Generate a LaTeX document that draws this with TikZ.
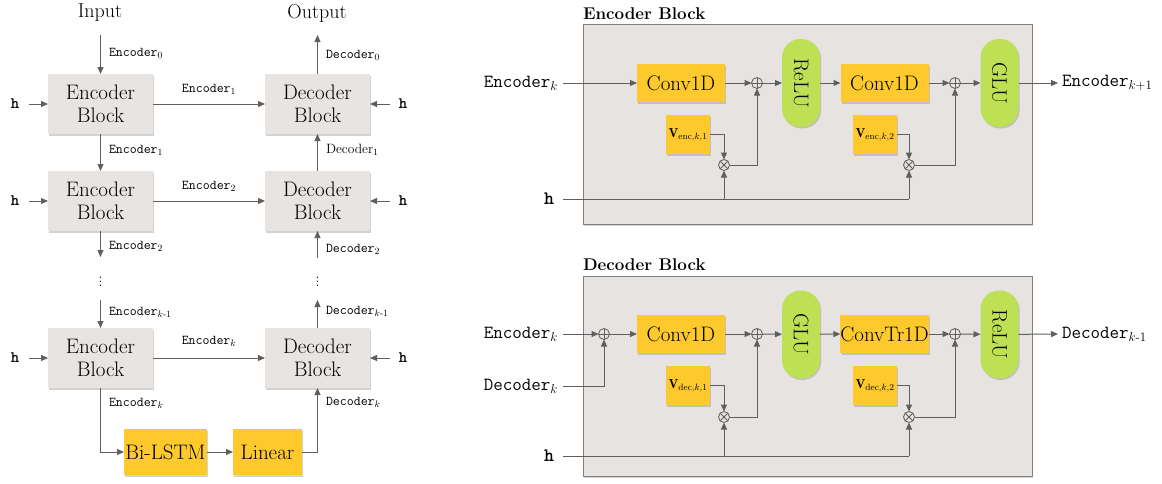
\RequirePackage{fix-cm}
\documentclass[tikz,border=0pt]{standalone}
\usepackage{fontspec}
\usepackage{amsmath}
\usetikzlibrary{arrows.meta,shadows,calc}
\definecolor{blockgray}{RGB}{231,228,226}
\definecolor{panelgray}{RGB}{230,227,225}
\definecolor{ylw}{RGB}{253,201,45}
\definecolor{grn}{RGB}{189,224,84}
\definecolor{ln}{RGB}{95,95,95}
\newcommand{\fs}[1]{\fontsize{#1}{#1}\selectfont}
\begin{document}
\begin{tikzpicture}[x=1pt,y=-1pt,
  every node/.style={inner sep=0pt,outer sep=0pt},
  shd/.style={drop shadow={opacity=0.35,shadow xshift=1.2pt,shadow yshift=-1.5pt}},
  blk/.style={fill=blockgray,minimum width=105pt,minimum height=60pt,align=center,
    font=\fontsize{21}{23}\selectfont,shd},
  ybox/.style={fill=ylw,minimum height=38pt,font=\fs{21},shd},
  vbox/.style={fill=ylw,minimum width=44pt,minimum height=39pt,font=\fs{13},shd},
  pill/.style={fill=grn,minimum width=88pt,minimum height=38pt,rounded corners=18.5pt,
    rotate=-90,font=\fs{21},shd},
  panel/.style={fill=panelgray,draw=ln!80,line width=0.9pt,shd},
  lbl/.style={font=\fs{13.5}},
  big/.style={font=\fs{18.5}},
  hl/.style={font=\fs{16}\ttfamily\bfseries},
  hr/.style={font=\fs{19}\ttfamily\bfseries},
  ttl/.style={font=\fs{17}\bfseries},
  op/.style={circle,draw=ln,line width=0.8pt,minimum size=11pt,fill=panelgray},
  ar/.style={draw=ln,line width=1pt,-{Triangle[length=7pt,width=6pt]}},
  ln/.style={draw=ln,line width=1pt},
]
\useasboundingbox (0,0) rectangle (1162,483);

% ---------------- left panel ----------------
\node[font=\fs{20}] (input) at (100,13) {Input};
\node[font=\fs{20}] (output) at (317,13) {Output};

\node[blk] (enc1) at (100.5,104) {Encoder\\Block};
\node[blk] (dec1) at (317.5,104) {Decoder\\Block};
\node[blk] (enc2) at (100.5,201) {Encoder\\Block};
\node[blk] (dec2) at (317.5,201) {Decoder\\Block};
\node[blk] (enc3) at (100.5,358) {Encoder\\Block};
\node[blk] (dec3) at (317.5,358) {Decoder\\Block};
\node[ybox,minimum width=83pt,minimum height=46pt] (lstm) at (165.5,452) {Bi-LSTM};
\node[ybox,minimum width=69pt,minimum height=46pt] (lin) at (267.5,452) {Linear};

\coordinate (in0) at (100.5,35);
\coordinate (out0) at (317.5,35);
\draw[ar] (in0) -- (enc1.north);
\draw[ar] (dec1.north) -- (out0);
\node[lbl,anchor=west] (le0) at (109,53) {\texttt{Encoder}$_0$};
\node[lbl,anchor=west] (ld0) at (326,55) {\texttt{Decoder}$_0$};

% h inputs
\foreach \r/\y in {1/104,2/201,3/358}{
  \node[hl] (hl\r) at (15,\y) {h};
  \coordinate (hls\r) at (29,\y);
  \draw[ar] (hls\r) -- (enc\r.west);
  \node[hl] (hr\r) at (403,\y) {h};
  \coordinate (hrs\r) at (390,\y);
  \draw[ar] (hrs\r) -- (dec\r.east);
}

\draw[ar] (enc1.east) -- (dec1.west);
\node[lbl] (le1h) at (209,89) {\texttt{Encoder}$_1$};
\draw[ar] (enc1.south) -- (enc2.north);
\node[lbl,anchor=west] (le1v) at (109,150) {\texttt{Encoder}$_1$};
\draw[ar] (dec2.north) -- (dec1.south);
\node[lbl,anchor=west] (ld1v) at (326,150) {Decoder$_1$};

\draw[ar] (enc2.east) -- (dec2.west);
\node[lbl] (le2h) at (209,186) {\texttt{Encoder}$_2$};
\coordinate (e2d) at (100.5,257);
\draw[ar] (enc2.south) -- (e2d);
\node[lbl,anchor=west] (le2v) at (109,246) {\texttt{Encoder}$_2$};
\coordinate (d2u) at (317.5,258);
\draw[ar] (d2u) -- (dec2.south);
\node[lbl,anchor=west] (ld2v) at (326,249) {\texttt{Decoder}$_2$};

\node[font=\fs{14}] (dotl) at (100.5,279) {$\vdots$};
\node[font=\fs{14}] (dotr) at (317.5,279) {$\vdots$};

\coordinate (ek1) at (100.5,300);
\draw[ar] (ek1) -- (enc3.north);
\node[lbl,anchor=west] (lek1) at (109,312) {\texttt{Encoder}$_{k\text{-}1}$};
\coordinate (dk1) at (317.5,300);
\draw[ar] (dec3.north) -- (dk1);
\node[lbl,anchor=west] (ldk1) at (326,311) {\texttt{Decoder}$_{k\text{-}1}$};

\draw[ar] (enc3.east) -- (dec3.west);
\node[lbl] (lekh) at (209,341) {\texttt{Encoder}$_k$};
\draw[ar] (enc3.south) |- (lstm.west);
\node[lbl,anchor=west] (lekv) at (109,403) {\texttt{Encoder}$_k$};
\draw[ar] (lstm.east) -- (lin.west);
\draw[ar] (lin.east) -| (dec3.south);
\node[lbl,anchor=west] (ldkv) at (326,402) {\texttt{Decoder}$_k$};

% ---------------- encoder block detail ----------------
\node[ttl,anchor=base west] (t1) at (583,19) {Encoder Block};
\node[panel,minimum width=449pt,minimum height=200pt] (p1) at (807.5,124) {};

\node[big,anchor=east] (ein) at (558,83) {\texttt{Encoder}$_k$};
\coordinate (eins) at (563,83);
\node[ybox,minimum width=88pt] (ec1) at (681,83) {Conv1D};
\node[op] (eplus1) at (757,83) {};
\draw[ln] (eplus1.north) -- (eplus1.south) (eplus1.west) -- (eplus1.east);
\node[pill] (erelu) at (801,83) {ReLU};
\node[ybox,minimum width=88pt] (ec2) at (884.5,83) {Conv1D};
\node[op] (eplus2) at (955,83) {};
\draw[ln] (eplus2.north) -- (eplus2.south) (eplus2.west) -- (eplus2.east);
\node[pill] (eglu) at (999.5,83) {GLU};
\coordinate (eout) at (1058,83);
\node[big,anchor=west] (eoutl) at (1062,83) {\texttt{Encoder}$_{k+1}$};

\draw[ar] (eins) -- (ec1.west);
\draw[ar] (ec1.east) -- (eplus1.west);
\draw[ar] (eplus1.east) -- (erelu);
\draw[ar] (erelu) -- (ec2.west);
\draw[ar] (ec2.east) -- (eplus2.west);
\draw[ar] (eplus2.east) -- (eglu);
\draw[ar] (eglu) -- (eout);

\node[vbox] (ev1) at (688,134.5) {$\mathbf{V}_{\mathrm{enc},k,1}$};
\node[vbox] (ev2) at (875,134.5) {$\mathbf{V}_{\mathrm{enc},k,2}$};
\node[op] (etimes1) at (724,165) {};
\draw[ln] ($(etimes1)+(-3.9,-3.9)$) -- ($(etimes1)+(3.9,3.9)$) ($(etimes1)+(-3.9,3.9)$) -- ($(etimes1)+(3.9,-3.9)$);
\node[op] (etimes2) at (909,165) {};
\draw[ln] ($(etimes2)+(-3.9,-3.9)$) -- ($(etimes2)+(3.9,3.9)$) ($(etimes2)+(-3.9,3.9)$) -- ($(etimes2)+(3.9,-3.9)$);

\node[hr] (eh) at (549,199) {h};
\coordinate (ehs) at (563,199);
\coordinate (ehj1) at (724,199);
\coordinate (ehj2) at (909,199);
\draw[ln] (ehs) -- (ehj2);
\draw[ar] (ehj1) -- (etimes1.south);
\draw[ar] (ehj2) -- (etimes2.south);
\draw[ar] (ev1.east) -| (etimes1.north);
\draw[ar] (ev2.east) -| (etimes2.north);
\draw[ar] (etimes1.east) -| (eplus1.south);
\draw[ar] (etimes2.east) -| (eplus2.south);

% ---------------- decoder block detail ----------------
\node[ttl,anchor=base west] (t2) at (583,270) {Decoder Block};
\node[panel,minimum width=449pt,minimum height=200pt] (p2) at (807.5,376) {};

\node[big,anchor=east] (din1) at (558,334) {\texttt{Encoder}$_k$};
\coordinate (din1s) at (563,334);
\node[big,anchor=east] (din2) at (558,386) {\texttt{Decoder}$_k$};
\coordinate (din2s) at (563,386);
\node[op] (dplus0) at (604,334) {};
\draw[ln] (dplus0.north) -- (dplus0.south) (dplus0.west) -- (dplus0.east);
\node[ybox,minimum width=88pt] (dc1) at (681,334) {Conv1D};
\node[op] (dplus1) at (757,334) {};
\draw[ln] (dplus1.north) -- (dplus1.south) (dplus1.west) -- (dplus1.east);
\node[pill] (dglu) at (801,334.5) {GLU};
\node[ybox,minimum width=88pt] (dc2) at (884.5,334) {ConvTr1D};
\node[op] (dplus2) at (955,334) {};
\draw[ln] (dplus2.north) -- (dplus2.south) (dplus2.west) -- (dplus2.east);
\node[pill] (drelu) at (999.5,334.5) {ReLU};
\coordinate (dout) at (1058,334);
\node[big,anchor=west] (doutl) at (1062,334) {\texttt{Decoder}$_{k\text{-}1}$};

\draw[ar] (din1s) -- (dplus0.west);
\draw[ar] (din2s) -| (dplus0.south);
\draw[ar] (dplus0.east) -- (dc1.west);
\draw[ar] (dc1.east) -- (dplus1.west);
\draw[ar] (dplus1.east) -- (dglu);
\draw[ar] (dglu) -- (dc2.west);
\draw[ar] (dc2.east) -- (dplus2.west);
\draw[ar] (dplus2.east) -- (drelu);
\draw[ar] (drelu) -- (dout);

\node[vbox] (dv1) at (688,385.5) {$\mathbf{V}_{\mathrm{dec},k,1}$};
\node[vbox] (dv2) at (875,385.5) {$\mathbf{V}_{\mathrm{dec},k,2}$};
\node[op] (dtimes1) at (724,417) {};
\draw[ln] ($(dtimes1)+(-3.9,-3.9)$) -- ($(dtimes1)+(3.9,3.9)$) ($(dtimes1)+(-3.9,3.9)$) -- ($(dtimes1)+(3.9,-3.9)$);
\node[op] (dtimes2) at (909,417) {};
\draw[ln] ($(dtimes2)+(-3.9,-3.9)$) -- ($(dtimes2)+(3.9,3.9)$) ($(dtimes2)+(-3.9,3.9)$) -- ($(dtimes2)+(3.9,-3.9)$);

\node[hr] (dh) at (549,456) {h};
\coordinate (dhs) at (563,456);
\coordinate (dhj1) at (724,456);
\coordinate (dhj2) at (909,456);
\draw[ln] (dhs) -- (dhj2);
\draw[ar] (dhj1) -- (dtimes1.south);
\draw[ar] (dhj2) -- (dtimes2.south);
\draw[ar] (dv1.east) -| (dtimes1.north);
\draw[ar] (dv2.east) -| (dtimes2.north);
\draw[ar] (dtimes1.east) -| (dplus1.south);
\draw[ar] (dtimes2.east) -| (dplus2.south);
\end{tikzpicture}
\end{document}
